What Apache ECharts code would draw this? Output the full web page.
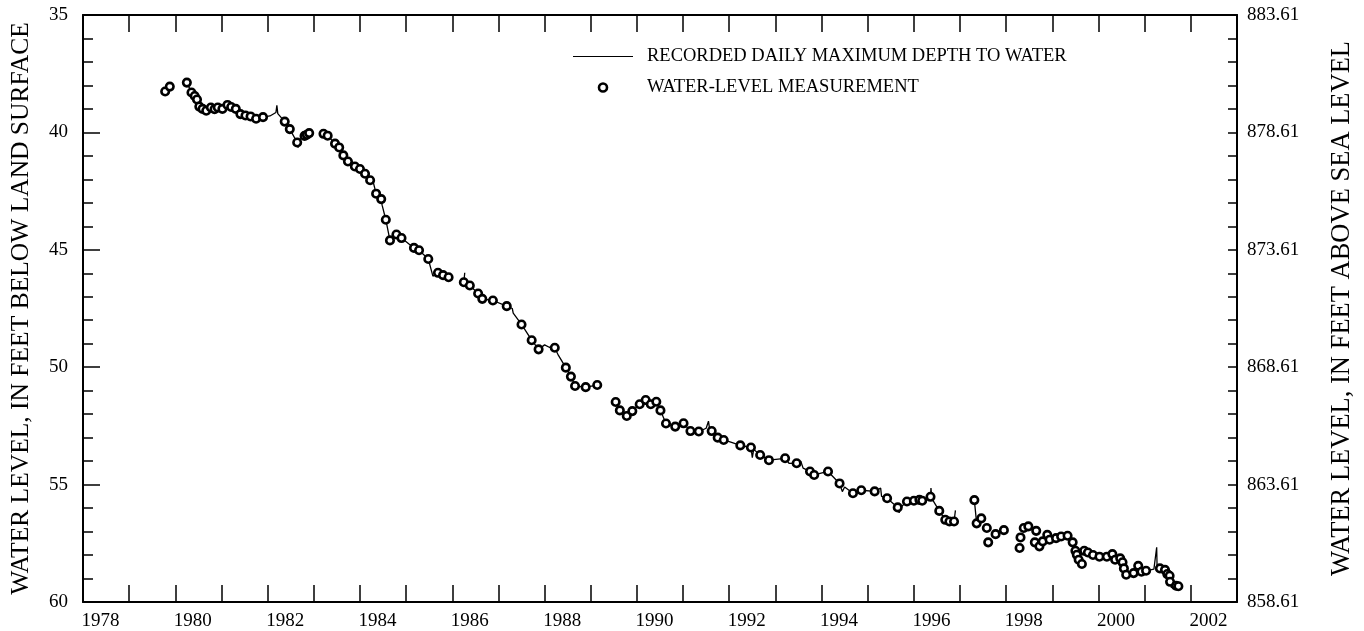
<!DOCTYPE html>
<html>
<head>
<meta charset="utf-8">
<script src="https://cdn.jsdelivr.net/npm/echarts@6/dist/echarts.min.js"></script>
<style>
html,body{margin:0;padding:0;background:#fff;}
#chart{width:1364px;height:631px;}
</style>
</head>
<body>
<div id="chart"></div>
<script>
// ---- DATA ----
const xTickYears = [1979,1980,1981,1982,1983,1984,1985,1986,1987,1988,1989,1990,1991,1992,1993,1994,1995,1996,1997,1998,1999,2000,2001,2002];
const xLabelYears = [1978,1980,1982,1984,1986,1988,1990,1992,1994,1996,1998,2000,2002];

// Water-level measurements [decimal year, depth below land surface (ft)]
const measurements = [
  [1979.78,38.26],[1979.88,38.05],
  [1980.25,37.88],[1980.35,38.30],[1980.42,38.45],[1980.47,38.6],[1980.52,38.9],[1980.59,39.0],[1980.67,39.08],[1980.77,38.94],[1980.85,39.01],[1980.92,38.94],[1981.02,39.0],[1981.13,38.83],[1981.21,38.92],[1981.31,39.0],[1981.41,39.22],[1981.52,39.28],[1981.63,39.32],[1981.75,39.42],[1981.90,39.35],
  [1982.37,39.54],[1982.48,39.86],[1982.64,40.43],[1982.80,40.15],[1982.85,40.1],[1982.90,40.03],
  [1983.21,40.06],[1983.30,40.14],[1983.46,40.48],[1983.55,40.64],[1983.64,40.98],[1983.74,41.24],[1983.89,41.45],[1984.0,41.56],[1984.11,41.76],[1984.22,42.04],[1984.35,42.61],[1984.46,42.84],[1984.56,43.72],[1984.65,44.6],[1984.79,44.35],[1984.90,44.5],[1985.17,44.92],[1985.28,45.02],[1985.48,45.39],[1985.69,45.98],[1985.80,46.08],[1985.92,46.17],
  [1986.25,46.38],[1986.38,46.52],[1986.56,46.86],[1986.65,47.09],[1986.88,47.16],[1987.18,47.4],[1987.5,48.18],[1987.72,48.85],[1987.87,49.24],[1988.22,49.17],[1988.46,50.02],[1988.57,50.4],[1988.66,50.8],[1988.89,50.85],[1989.14,50.76],
  [1989.54,51.48],[1989.63,51.84],[1989.78,52.08],[1989.9,51.87],[1990.06,51.58],[1990.19,51.4],[1990.3,51.58],[1990.42,51.47],[1990.51,51.84],[1990.63,52.4],[1990.83,52.53],[1991.01,52.39],[1991.16,52.72],[1991.34,52.74],[1991.62,52.72],[1991.75,53.0],[1991.88,53.1],[1992.24,53.33],[1992.47,53.42],[1992.67,53.74],[1992.86,53.96],[1993.21,53.88],[1993.46,54.09],[1993.75,54.44],[1993.84,54.59],[1994.14,54.44],[1994.39,54.95],[1994.68,55.37],[1994.86,55.24],[1995.15,55.29],[1995.42,55.58],[1995.65,55.97],[1995.85,55.72],[1996.0,55.69],[1996.12,55.65],[1996.18,55.69],[1996.36,55.52],[1996.55,56.12],[1996.68,56.5],[1996.77,56.57],[1996.87,56.57],
  [1997.31,55.66],[1997.36,56.65],[1997.46,56.44],[1997.58,56.85],[1997.61,57.46],[1997.77,57.11],[1997.95,56.94],
  [1998.29,57.7],[1998.31,57.25],[1998.38,56.85],[1998.48,56.78],[1998.65,56.97],[1998.62,57.46],[1998.72,57.63],[1998.79,57.42],[1998.89,57.14],[1998.94,57.35],[1999.08,57.28],[1999.19,57.21],[1999.33,57.18],[1999.44,57.46],[1999.50,57.82],[1999.53,57.99],[1999.57,58.2],[1999.64,58.38],[1999.69,57.82],[1999.77,57.89],[1999.88,58.0],[2000.02,58.07],[2000.18,58.07],[2000.30,57.96],[2000.36,58.2],[2000.47,58.14],[2000.52,58.31],[2000.55,58.57],[2000.60,58.84],[2000.76,58.77],[2000.86,58.46],[2000.93,58.71],[2001.03,58.67],[2001.33,58.57],[2001.44,58.63],[2001.49,58.81],[2001.54,58.88],[2001.55,59.14],[2001.68,59.31],[2001.73,59.33]
];

// Recorded daily maximum depth, as separate continuous segments
const recA = [[1980.25,37.88],[1980.35,38.30],[1980.47,38.6],[1980.52,38.9],[1980.59,39.0],[1980.67,39.08],[1980.77,38.94],[1980.85,39.01],[1980.92,38.94],[1981.02,39.0],[1981.13,38.83],[1981.21,38.92],[1981.31,39.0],[1981.41,39.22],[1981.52,39.28],[1981.63,39.32],[1981.66,39.5],[1981.75,39.42],[1981.90,39.35],[1982.05,39.3],[1982.18,39.15],[1982.2,38.85],[1982.22,39.2],[1982.37,39.54],[1982.48,39.86],[1982.64,40.43],[1982.66,40.65],[1982.70,40.3],[1982.80,40.15],[1982.85,40.1],[1982.90,40.03]];
const recB = [[1983.21,40.06],[1983.30,40.14],[1983.46,40.48],[1983.55,40.64],[1983.64,40.98],[1983.74,41.24],[1983.89,41.45],[1984.0,41.56],[1984.11,41.76],[1984.22,42.04],[1984.26,41.9],[1984.35,42.61],[1984.46,42.84],[1984.48,43.1],[1984.56,43.72],[1984.65,44.6],[1984.79,44.35],[1984.90,44.5],[1985.17,44.92],[1985.28,45.02],[1985.48,45.39],[1985.58,46.12],[1985.69,45.98],[1985.80,46.08],[1985.92,46.17]];
const recC = [[1986.27,45.98],[1986.25,46.38],[1986.38,46.52],[1986.56,46.86],[1986.65,47.09],[1986.88,47.16],[1987.18,47.4],[1987.3,47.5],[1987.32,47.7],[1987.5,48.18],[1987.72,48.85],[1987.87,49.24],[1988.0,49.05],[1988.1,49.15],[1988.22,49.17],[1988.3,49.5],[1988.46,50.02],[1988.57,50.4],[1988.66,50.8],[1988.89,50.85],[1989.14,50.76]];
const recD = [[1989.54,51.48],[1989.63,51.84],[1989.78,52.08],[1989.9,51.87],[1990.06,51.58],[1990.19,51.4],[1990.3,51.58],[1990.42,51.47],[1990.51,51.84],[1990.63,52.4],[1990.83,52.53],[1991.01,52.39],[1991.16,52.72],[1991.34,52.74],[1991.5,52.6],[1991.55,52.3],[1991.58,52.7],[1991.62,52.72],[1991.75,53.0],[1991.88,53.1],[1992.05,53.2],[1992.24,53.33],[1992.47,53.42],[1992.5,53.85],[1992.53,53.5],[1992.67,53.74],[1992.86,53.96],[1993.21,53.88],[1993.3,54.1],[1993.46,54.09],[1993.55,54.0],[1993.6,54.3],[1993.75,54.44],[1993.84,54.59],[1994.14,54.44],[1994.39,54.95],[1994.45,55.3],[1994.5,55.1],[1994.68,55.37],[1994.86,55.24],[1995.15,55.29],[1995.28,55.15],[1995.3,55.5],[1995.42,55.58],[1995.55,55.8],[1995.65,55.97],[1995.68,56.2],[1995.75,55.9],[1995.85,55.72],[1996.0,55.69],[1996.12,55.65],[1996.18,55.69],[1996.36,55.52],[1996.37,55.15],[1996.39,55.6],[1996.55,56.12],[1996.68,56.5],[1996.72,56.7],[1996.77,56.57],[1996.87,56.57],[1996.9,56.1]];
const recE = [[1997.31,55.66],[1997.36,56.65],[1997.46,56.44]];
const recF = [[1998.62,57.46],[1998.72,57.63],[1998.79,57.42],[1998.89,57.14],[1998.94,57.35],[1999.08,57.28],[1999.19,57.21],[1999.33,57.18],[1999.44,57.46],[1999.5,57.82],[1999.69,57.82],[1999.77,57.89],[1999.88,58.0],[2000.02,58.07],[2000.18,58.07],[2000.30,57.96],[2000.36,58.2],[2000.47,58.14],[2000.52,58.31],[2000.55,58.57],[2000.60,58.84],[2000.76,58.77],[2000.86,58.46],[2000.93,58.71],[2001.03,58.67],[2001.2,58.6],[2001.26,57.67],[2001.27,58.62],[2001.33,58.57],[2001.44,58.63],[2001.49,58.81],[2001.54,58.88],[2001.55,59.14],[2001.58,59.4],[2001.6,59.1],[2001.68,59.31],[2001.73,59.33]];
const recordSegments = [recA, recB, recC, recD, recE, recF];

// ---- BUILD ----
const recordedData = [];
recordSegments.forEach((seg, i) => {
  if (i > 0) recordedData.push([seg[0][0], '-']);
  seg.forEach(p => recordedData.push(p));
});

const FONT = 'Liberation Serif';
const lineName = 'RECORDED DAILY MAXIMUM DEPTH TO WATER';
const ptName = 'WATER-LEVEL MEASUREMENT';

const chart = echarts.init(document.getElementById('chart'), null, {renderer: 'canvas'});
chart.setOption({
  animation: false,
  backgroundColor: '#fff',
  textStyle: {fontFamily: FONT, color: '#000'},
  grid: {left: 80, right: 123, top: 15, bottom: 28, containLabel: false},
  legend: {
    orient: 'vertical',
    left: 568, top: 42,
    itemWidth: 60, itemHeight: 8, itemGap: 12,
    textStyle: {fontFamily: FONT, fontSize: 18.5, color: '#000', padding: [0, 0, 0, 9]},
    data: [
      {name: lineName, icon: 'path://M0,0 L60,0 L60,1.2 L0,1.2 Z', itemStyle: {color: '#000', borderWidth: 0}},
      {name: ptName, itemStyle: {color: '#fff', borderColor: '#000', borderWidth: 2.6}}
    ]
  },
  xAxis: [{
    type: 'value', position: 'bottom', min: 1978, max: 2003,
    axisLine: {show: true, onZero: false, lineStyle: {color: '#000', width: 2}},
    axisTick: {show: true, inside: true, length: 17, lineStyle: {color: '#000', width: 1.5}, customValues: xTickYears},
    axisLabel: {show: true, fontFamily: FONT, fontSize: 19, color: '#000', margin: 10,
      customValues: xLabelYears.map(y => y + 0.38),
      formatter: v => String(Math.floor(v))},
    splitLine: {show: false}
  }, {
    type: 'value', position: 'top', min: 1978, max: 2003,
    axisLine: {show: true, onZero: false, lineStyle: {color: '#000', width: 2}},
    axisTick: {show: true, inside: true, length: 17, lineStyle: {color: '#000', width: 1.5}, customValues: xTickYears},
    axisLabel: {show: false},
    splitLine: {show: false}
  }],
  yAxis: [{
    type: 'value', position: 'left', inverse: true, min: 35, max: 60, interval: 5,
    name: 'WATER LEVEL, IN FEET BELOW LAND SURFACE',
    nameLocation: 'middle', nameGap: 49, nameRotate: 90,
    nameTextStyle: {fontFamily: FONT, fontSize: 25.5, color: '#000'},
    axisLine: {show: true, onZero: false, lineStyle: {color: '#000', width: 2}},
    axisTick: {show: true, inside: true, length: 17, lineStyle: {color: '#000', width: 1.5}},
    minorTick: {show: true, splitNumber: 5, length: 10, lineStyle: {color: '#000', width: 1.5}},
    axisLabel: {fontFamily: FONT, fontSize: 19, color: '#000', margin: 15},
    splitLine: {show: false}, minorSplitLine: {show: false}
  }, {
    type: 'value', position: 'right', min: 858.61, max: 883.61, interval: 5,
    name: 'WATER LEVEL, IN FEET ABOVE SEA LEVEL',
    nameLocation: 'middle', nameGap: 92, nameRotate: 90,
    nameTextStyle: {fontFamily: FONT, fontSize: 26.5, color: '#000'},
    axisLine: {show: true, onZero: false, lineStyle: {color: '#000', width: 2}},
    axisTick: {show: true, inside: true, length: 9, lineStyle: {color: '#000', width: 1.5}},
    minorTick: {show: true, splitNumber: 5, length: 9, lineStyle: {color: '#000', width: 1.5}},
    axisLabel: {fontFamily: FONT, fontSize: 19, color: '#000', margin: 10, formatter: v => v.toFixed(2)},
    splitLine: {show: false}, minorSplitLine: {show: false}
  }],
  series: [{
    name: lineName, type: 'line', xAxisIndex: 0, yAxisIndex: 0,
    data: recordedData, showSymbol: false, symbol: 'none', connectNulls: false,
    lineStyle: {color: '#000', width: 1.3}, itemStyle: {color: '#000'}, z: 2
  }, {
    name: ptName, type: 'scatter', xAxisIndex: 0, yAxisIndex: 0,
    data: measurements, symbol: 'circle', symbolSize: 7.5,
    itemStyle: {color: '#fff', borderColor: '#000', borderWidth: 2.6, opacity: 1}, z: 3
  }]
});
</script>
</body>
</html>
